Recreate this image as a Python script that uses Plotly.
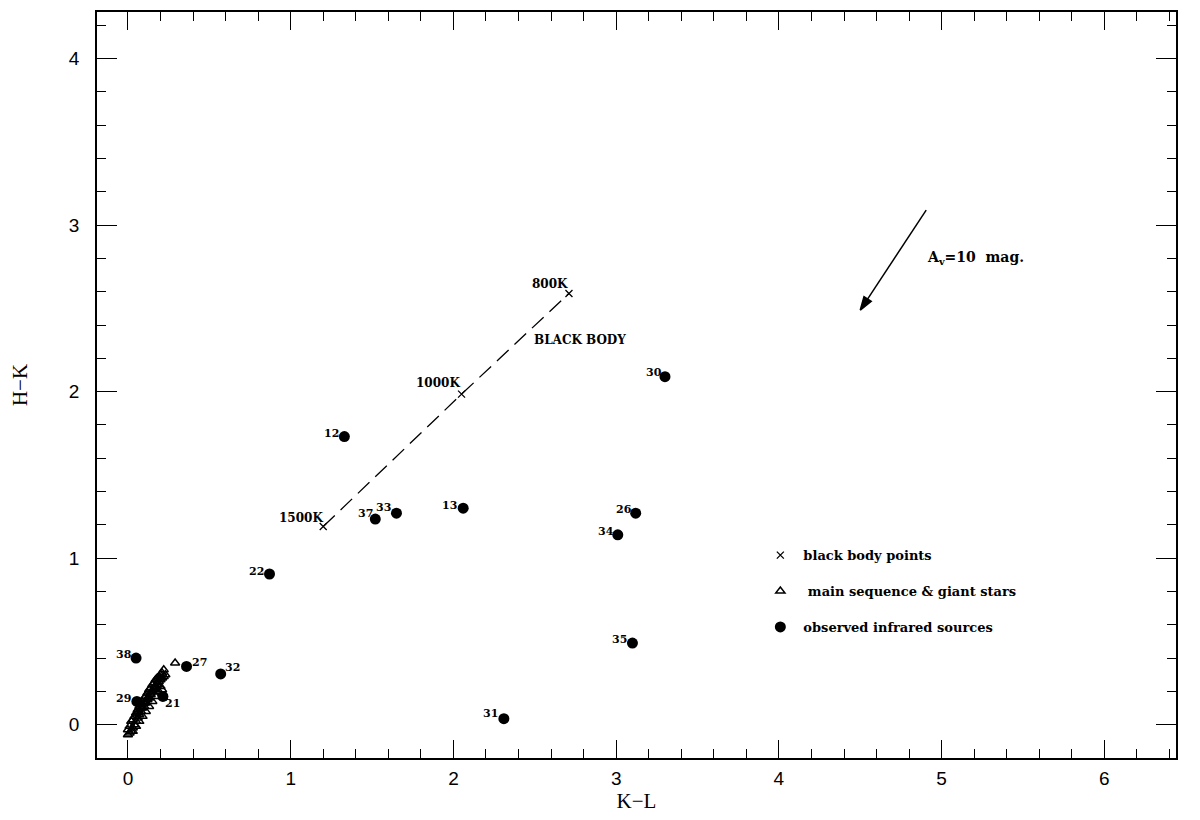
import plotly.graph_objects as go

# Observed infrared sources
src_ids = ["12", "22", "37", "33", "13", "30", "26", "34", "35", "31", "38", "27", "32", "29", "21"]
src_kl = [1.33, 0.87, 1.52, 1.65, 2.06, 3.30, 3.12, 3.01, 3.10, 2.31, 0.05, 0.36, 0.57, 0.055, 0.215]
src_hk = [1.73, 0.905, 1.235, 1.27, 1.30, 2.09, 1.27, 1.14, 0.49, 0.036, 0.40, 0.35, 0.305, 0.14, 0.17]

# Black body points
bb_labels = ["1500K", "1000K", "800K"]
bb_kl = [1.20, 2.05, 2.71]
bb_hk = [1.19, 1.985, 2.59]

# Main sequence & giant stars
ms_kl = [0.00, 0.01, 0.00, 0.02, 0.01, 0.03, 0.02, 0.04, 0.03, 0.05, 0.04, 0.06, 0.05, 0.07, 0.06, 0.08,
         0.07, 0.09, 0.08, 0.10, 0.09, 0.11, 0.10, 0.12, 0.11, 0.13, 0.12, 0.14, 0.13, 0.15, 0.14, 0.16,
         0.15, 0.17, 0.16, 0.18, 0.17, 0.19, 0.18, 0.20, 0.19, 0.21, 0.20, 0.22, 0.21, 0.23, 0.22, 0.29,
         0.03, 0.05, 0.07, 0.09, 0.11, 0.13, 0.15, 0.17, 0.19, 0.06, 0.08, 0.10, 0.12, 0.14, 0.16, 0.18,
         0.20, 0.18, 0.20, 0.21]
ms_hk = [-0.06, -0.05, -0.03, -0.04, -0.01, -0.02, 0.02, 0.00, 0.03, 0.02, 0.05, 0.04, 0.07, 0.06, 0.09,
         0.08, 0.11, 0.10, 0.12, 0.11, 0.14, 0.13, 0.16, 0.15, 0.17, 0.16, 0.19, 0.18, 0.21, 0.20, 0.22,
         0.21, 0.24, 0.23, 0.25, 0.24, 0.27, 0.26, 0.28, 0.27, 0.29, 0.28, 0.30, 0.29, 0.31, 0.30, 0.33, 0.37,
         -0.04, -0.01, 0.02, 0.05, 0.08, 0.11, 0.14, 0.17, 0.20, 0.07, 0.10, 0.13, 0.16, 0.19, 0.22, 0.25,
         0.28, 0.20, 0.23, 0.21]

# Reddening vector A_v = 10 mag (tail -> head)
av_kl = [4.905, 4.50]
av_hk = [3.09, 2.49]

x_ticks = [0, 1, 2, 3, 4, 5, 6]
y_ticks = [0, 1, 2, 3, 4]

# label offsets in pixels (style only)
src_offsets = {"12": (-13, 3), "22": (-13, 3), "37": (-10, 6), "33": (-13, 6), "13": (-14, 3),
               "30": (-11, 4), "26": (-12, 4), "34": (-12, 3), "35": (-13, 4), "31": (-13, 5),
               "38": (-12, 4), "27": (13, 4), "32": (12, 6), "29": (-13, 3), "21": (10, -7)}
bb_offsets = {"1500K": (-22, 9), "1000K": (-24, 11), "800K": (-19, 9)}

LBL = "DejaVu Serif"
fig = go.Figure()

# black body dashed curve
fig.add_trace(go.Scatter(x=bb_kl, y=bb_hk, mode="lines",
                         line=dict(color="black", width=1.3, dash="16px,8px"),
                         showlegend=False, hoverinfo="skip"))

fig.add_trace(go.Scatter(x=bb_kl, y=bb_hk, mode="markers", name="<b>black body points</b>",
                         legendgroup="a",
                         marker=dict(symbol="x-thin", size=7, line=dict(color="black", width=1.3))))

fig.add_trace(go.Scatter(x=ms_kl, y=ms_hk, mode="markers", name="<b> main sequence &amp; giant stars</b>",
                         legendgroup="b",
                         marker=dict(symbol="triangle-up-open", size=8, color="black",
                                     line=dict(color="black", width=1.5))))

fig.add_trace(go.Scatter(x=src_kl, y=src_hk, mode="markers", name="<b>observed infrared sources</b>",
                         legendgroup="c",
                         marker=dict(symbol="circle", size=11, color="black")))

# reddening arrow
fig.add_trace(go.Scatter(x=av_kl, y=av_hk, mode="lines+markers", showlegend=False, hoverinfo="skip",
                         line=dict(color="black", width=1.5),
                         marker=dict(symbol="arrow", angleref="previous", size=[0, 14], color="black",
                                     opacity=1, line=dict(color="black", width=1.5))))

for sid, xv, yv in zip(src_ids, src_kl, src_hk):
    dx, dy = src_offsets[sid]
    fig.add_annotation(x=xv, y=yv, xref="x", yref="y", text="<b>%s</b>" % sid, showarrow=False,
                       xshift=dx, yshift=dy, font=dict(family=LBL, size=11, color="black"))

for lab, xv, yv in zip(bb_labels, bb_kl, bb_hk):
    dx, dy = bb_offsets[lab]
    fig.add_annotation(x=xv, y=yv, xref="x", yref="y", text="<b>%s</b>" % lab, showarrow=False,
                       xshift=dx, yshift=dy, font=dict(family=LBL, size=12, color="black"))

fig.add_annotation(x=2.48, y=2.31, xref="x", yref="y", text="<b>BLACK BODY</b>", showarrow=False,
                   xanchor="left", yanchor="middle", font=dict(family=LBL, size=12, color="black"))

fig.add_annotation(x=4.9, y=2.80, xref="x", yref="y", text="<b>A<sub>v</sub>=10  mag.</b>",
                   showarrow=False, xanchor="left", yanchor="middle",
                   font=dict(family=LBL, size=14, color="black"))

axis_common = dict(showline=True, linecolor="black", linewidth=1.5, mirror="ticks",
                   ticks="inside", tickcolor="black", tickwidth=1.3, showgrid=False, zeroline=False,
                   tickfont=dict(family="Liberation Sans", size=19, color="black"),
                   minor=dict(ticks="inside", dtick=0.2, ticklen=9, tickcolor="black", tickwidth=1.2,
                              showgrid=False))

fig.update_xaxes(range=[-0.19, 6.44], tickvals=x_ticks, ticktext=[str(v) for v in x_ticks],
                 ticklen=18, ticklabelstandoff=2,
                 title=dict(text="K−L", font=dict(family="Liberation Serif", size=21, color="black"),
                            standoff=2),
                 **axis_common)
fig.update_yaxes(range=[-0.2, 4.28], tickvals=y_ticks, ticktext=[str(v) for v in y_ticks],
                 ticklen=20, ticklabelstandoff=12,
                 title=dict(text="H−K", font=dict(family="Liberation Serif", size=21, color="black"),
                            standoff=36),
                 **axis_common)

fig.update_layout(
    width=1200, height=820,
    margin=dict(l=89, r=32, t=4, b=70, autoexpand=False),
    paper_bgcolor="white", plot_bgcolor="white",
    showlegend=True,
    legend=dict(x=0.612, y=0.292, xanchor="left", yanchor="top", bgcolor="rgba(0,0,0,0)",
                font=dict(family=LBL, size=13, color="black"), traceorder="grouped",
                tracegroupgap=16, itemwidth=36),
)

fig.write_html("out.html")
